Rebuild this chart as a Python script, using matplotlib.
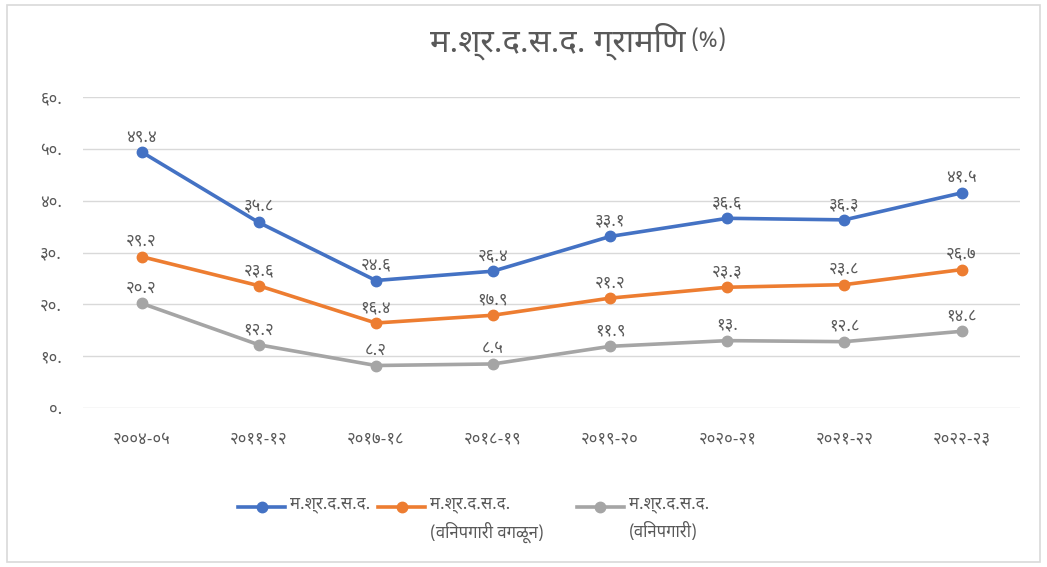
import matplotlib
matplotlib.use('Agg')
import matplotlib.pyplot as plt
from matplotlib.lines import Line2D
from matplotlib.patches import Rectangle

# fonts with Devanagari glyphs first, DejaVu as fallback
FONTS = ['Noto Sans Devanagari', 'Noto Sans Devanagari UI', 'Mukta',
         'Lohit Devanagari', 'FreeSans', 'DejaVu Sans']
plt.rcParams['font.family'] = FONTS

# ── data ────────────────────────────────────────────────────────────────────
years = ['2004-05', '2011-12', '2017-18', '2018-19',
         '2019-20', '2020-21', '2021-22', '2022-23']
lfpr_total = [49.4, 35.8, 24.6, 26.4, 33.1, 36.6, 36.3, 41.5]
lfpr_excl_unpaid = [29.2, 23.6, 16.4, 17.9, 21.2, 23.3, 23.8, 26.7]
lfpr_unpaid = [20.2, 12.2, 8.2, 8.5, 11.9, 13.0, 12.8, 14.8]
series_names = ['म.श्र.द.स.द.',
                'म.श्र.द.स.द.\n(विनपगारी वगळून)',
                'म.श्र.द.स.द.\n(विनपगारी)']
title = 'म.श्र.द.स.द. ग्रामिण'
y_ticks = [0, 10, 20, 30, 40, 50, 60]

DEV = str.maketrans('0123456789', '०१२३४५६७८९')


def dev(s):
    return str(s).translate(DEV)


def fmt(v):
    # Excel style: whole numbers keep a trailing dot ("१३.")
    if float(v).is_integer():
        return dev(f'{int(v)}.')
    return dev(f'{v:g}')


colors = ['#4472C4', '#ED7D31', '#A5A5A5']
txt = '#595959'

# ── figure ──────────────────────────────────────────────────────────────────
fig = plt.figure(figsize=(10.47, 5.67), dpi=100)
fig.patches.append(Rectangle((0.007, 0.008), 0.986, 0.984, transform=fig.transFigure,
                             fill=False, edgecolor='#D9D9D9', lw=1.2))

ax = fig.add_axes([0.0793, 0.2804, 0.895, 0.5485])
x = list(range(len(years)))
for vals, c in zip([lfpr_total, lfpr_excl_unpaid, lfpr_unpaid], colors):
    ax.plot(x, vals, color=c, lw=2.6, marker='o', ms=7.5, solid_capstyle='round', zorder=3)
    for xi, v in zip(x, vals):
        ax.annotate(fmt(v), (xi, v), xytext=(0, 5), textcoords='offset points',
                    ha='center', va='bottom', fontsize=12, color=txt, zorder=4)

ax.set_xlim(-0.5, len(years) - 0.5)
ax.set_ylim(0, 60)
ax.set_yticks(y_ticks)
ax.set_yticklabels([fmt(t) for t in y_ticks])
ax.set_xticks(x)
ax.set_xticklabels([dev(y) for y in years])
ax.tick_params(length=0, labelsize=12, labelcolor=txt)
ax.tick_params(axis='y', pad=15)
ax.tick_params(axis='x', pad=17)
ax.grid(axis='y', color='#D9D9D9', lw=1)
ax.set_axisbelow(True)
for s in ax.spines.values():
    s.set_visible(False)

fig.text(0.655, 0.928, title, ha='right', va='center', fontsize=23.5, color=txt)
fig.text(0.659, 0.928, '(%)', ha='left', va='center', fontsize=17, color=txt)

# legend drawn by hand so the handle sits on the first text line
leg_x = [0.2273, 0.361, 0.551]
leg_y = 0.105
for lx, c, name in zip(leg_x, colors, series_names):
    fig.add_artist(Line2D([lx, lx + 0.045], [leg_y, leg_y], transform=fig.transFigure,
                          color=c, lw=2.6))
    fig.add_artist(Line2D([lx + 0.0225], [leg_y], transform=fig.transFigure,
                          color=c, marker='o', ms=7.5, lw=0))
    fig.text(lx + 0.0495, leg_y + 0.018, name, ha='left', va='top',
             fontsize=12, color=txt, linespacing=1.55)

fig.savefig('out.png', dpi=100)
